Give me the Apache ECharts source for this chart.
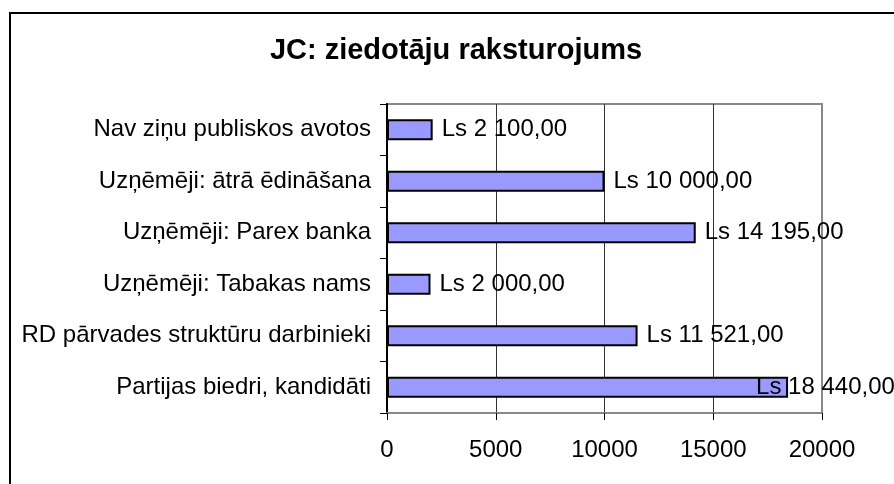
<!DOCTYPE html>
<html>
<head>
<meta charset="utf-8">
<script src="https://cdn.jsdelivr.net/npm/echarts@6/dist/echarts.min.js"></script>
<style>
    html, body { margin: 0; padding: 0; background: #fff; }
    #chart { width: 894px; height: 484px; }
</style>
</head>
<body>
<div id="chart"></div>
<script>
// kategorijas no apakšas uz augšu
var categories = [
    'Partijas biedri, kandidāti',
    'RD pārvades struktūru darbinieki',
    'Uzņēmēji: Tabakas nams',
    'Uzņēmēji: Parex banka',
    'Uzņēmēji: ātrā ēdināšana',
    'Nav ziņu publiskos avotos'
];
var values = [18440, 11521, 2000, 14195, 10000, 2100];
var xTicks = [0, 5000, 10000, 15000, 20000];

var fontName = 'Liberation Sans';

// Ls 11 521,00
function formatLs(v) {
    var s = String(Math.floor(v)).replace(/\B(?=(\d{3})+(?!\d))/g, ' ');
    return 'Ls ' + s + ',00';
}

var chart = echarts.init(document.getElementById('chart'));

var seriesData = values.map(function (v, i) {
    var item = { value: v };
    if (v === Math.max.apply(null, values)) {
        item.label = { offset: [-41, 0] }; // nav vietas labajā pusē
    }
    return item;
});

chart.setOption({
    backgroundColor: '#fff',
    animation: false,
    title: {
        text: 'JC: ziedotāju raksturojums',
        left: 451,
        top: 31,
        textAlign: 'center',
        textStyle: {
            fontFamily: fontName,
            fontSize: 29,
            fontWeight: 'bold',
            color: '#000'
        }
    },
    graphic: [{
        type: 'rect',
        shape: { x: 10, y: 13, width: 1000, height: 1000 },
        style: { fill: 'none', stroke: '#000', lineWidth: 2 },
        z: 100
    }],
    grid: {
        left: 387,
        right: 72,
        top: 104,
        bottom: 71,
        show: true,
        borderColor: '#888',
        borderWidth: 2,
        containLabel: false
    },
    xAxis: {
        type: 'value',
        min: xTicks[0],
        max: xTicks[xTicks.length - 1],
        interval: xTicks[1] - xTicks[0],
        axisLine: { show: true, lineStyle: { color: '#888', width: 2 } },
        axisTick: { show: true, length: 7, lineStyle: { color: '#000', width: 1 } },
        axisLabel: {
            margin: 25,
            fontFamily: fontName,
            fontSize: 24,
            color: '#000',
            formatter: function (v) { return String(v); }
        },
        splitLine: {
            show: true,
            showMinLine: false,
            showMaxLine: false,
            lineStyle: { color: '#333', width: 1 }
        }
    },
    yAxis: {
        type: 'category',
        data: categories,
        axisLine: { show: true, lineStyle: { color: '#000', width: 2 } },
        axisTick: { show: true, length: 7, lineStyle: { color: '#000', width: 1 } },
        axisLabel: {
            margin: 16,
            fontFamily: fontName,
            fontSize: 24,
            color: '#000'
        },
        splitLine: { show: false }
    },
    series: [{
        type: 'bar',
        data: seriesData,
        barWidth: 21,
        itemStyle: {
            color: '#9999ff',
            borderColor: '#000',
            borderWidth: 2
        },
        label: {
            show: true,
            position: 'right',
            distance: 9,
            fontFamily: fontName,
            fontSize: 24,
            color: '#000',
            formatter: function (p) { return formatLs(p.value); }
        }
    }]
});
</script>
</body>
</html>
